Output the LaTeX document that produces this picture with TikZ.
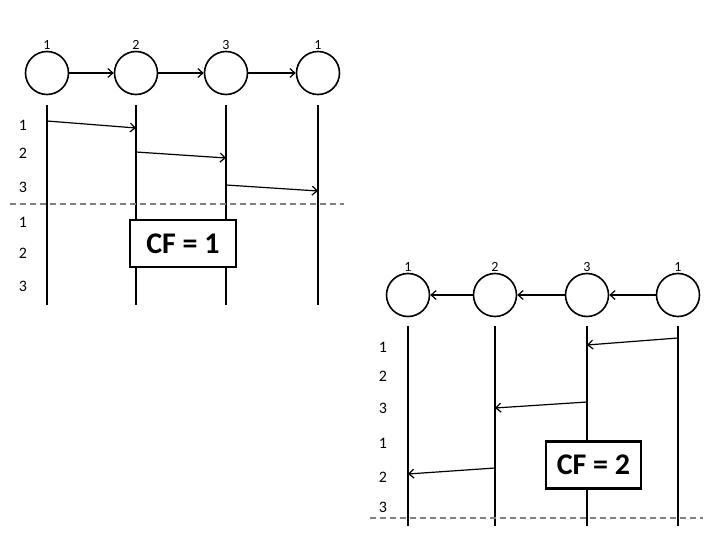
\documentclass[tikz,border=0pt]{standalone}
\usepackage{fontspec}
\setmainfont{Carlito}
\usetikzlibrary{arrows.meta}
\begin{document}
\begin{tikzpicture}[x=1pt,y=-1pt,
    >={Straight Barb[length=5pt,width=9pt,line width=1.2pt]},
    proc/.style={circle,draw,line width=1.6pt,minimum size=43pt,inner sep=0pt},
    tag/.style={font=\fontsize{14}{16}\selectfont,inner sep=1pt},
    link/.style={->,line width=1.3pt},
    life/.style={line width=1.6pt},
    msg/.style={->,line width=1.2pt},
    row/.style={font=\fontsize{16}{18}\selectfont,inner sep=0pt},
    cut/.style={dash pattern=on 6pt off 4pt,gray,line width=1.3pt},
    cfbox/.style={draw,fill=white,line width=2.2pt,minimum width=106pt,minimum height=47pt,
      font=\bfseries\fontsize{30}{34}\selectfont}]
        \useasboundingbox (0,0) rectangle (720,540);

        % upper ring
        \node[proc,label={[tag]above:1}] (a1) at (47,73) {};
        \node[proc,label={[tag]above:2}] (a2) at (136,73) {};
        \node[proc,label={[tag]above:3}] (a3) at (226,73) {};
        \node[proc,label={[tag]above:1}] (a4) at (318,73) {};

        \draw[link] (a1) -- (a2);
        \draw[link] (a2) -- (a3);
        \draw[link] (a3) -- (a4);

        \coordinate (a1t) at (47,105);
        \coordinate (a1b) at (47,305);
        \coordinate (a2t) at (136,105);
        \coordinate (a2b) at (136,305);
        \coordinate (a3t) at (226,105);
        \coordinate (a3b) at (226,305);
        \coordinate (a4t) at (318,105);
        \coordinate (a4b) at (318,305);

        \draw[life] (a1t) -- (a1b);
        \draw[life] (a2t) -- (a2b);
        \draw[life] (a3t) -- (a3b);
        \draw[life] (a4t) -- (a4b);

        \coordinate (p1) at (47,121);
        \coordinate (q1) at (136,128);
        \coordinate (p2) at (136,152);
        \coordinate (q2) at (226,158);
        \coordinate (p3) at (226,185);
        \coordinate (q3) at (318,191);

        \draw[msg] (p1) -- (q1);
        \draw[msg] (p2) -- (q2);
        \draw[msg] (p3) -- (q3);

        \node[row] (ra1) at (23,125) {1};
        \node[row] (ra2) at (23,153) {2};
        \node[row] (ra3) at (23,187) {3};
        \node[row] (ra4) at (23,222) {1};
        \node[row] (ra5) at (23,253) {2};
        \node[row] (ra6) at (23,286) {3};

        \coordinate (ca) at (10,204);
        \coordinate (cb) at (344,204);
        \draw[cut] (ca) -- (cb);

        \node[cfbox] (cf1) at (183,243.5) {CF = 1};

        % lower ring
        \node[proc,label={[tag]above:1}] (b1) at (408,295) {};
        \node[proc,label={[tag]above:2}] (b2) at (495,295) {};
        \node[proc,label={[tag]above:3}] (b3) at (587,295) {};
        \node[proc,label={[tag]above:1}] (b4) at (678,295) {};

        \draw[link] (b2) -- (b1);
        \draw[link] (b3) -- (b2);
        \draw[link] (b4) -- (b3);

        \coordinate (b1t) at (408,326);
        \coordinate (b1b) at (408,526);
        \coordinate (b2t) at (495,326);
        \coordinate (b2b) at (495,526);
        \coordinate (b3t) at (587,326);
        \coordinate (b3b) at (587,526);
        \coordinate (b4t) at (678,326);
        \coordinate (b4b) at (678,526);

        \draw[life] (b1t) -- (b1b);
        \draw[life] (b2t) -- (b2b);
        \draw[life] (b3t) -- (b3b);
        \draw[life] (b4t) -- (b4b);

        \coordinate (s1) at (678,338);
        \coordinate (t1) at (587,345);
        \coordinate (s2) at (587,402);
        \coordinate (t2) at (495,408);
        \coordinate (s3) at (495,468);
        \coordinate (t3) at (408,474);

        \draw[msg] (s1) -- (t1);
        \draw[msg] (s2) -- (t2);
        \draw[msg] (s3) -- (t3);

        \node[row] (rb1) at (383,347) {1};
        \node[row] (rb2) at (383,376) {2};
        \node[row] (rb3) at (383,408) {3};
        \node[row] (rb4) at (383,443) {1};
        \node[row] (rb5) at (383,477) {2};
        \node[row] (rb6) at (383,507) {3};

        \coordinate (cc) at (370,518);
        \coordinate (cd) at (703,518);
        \draw[cut] (cc) -- (cd);

        \node[cfbox,minimum width=95pt] (cf2) at (593.5,465) {CF = 2};
      \end{tikzpicture}
\end{document}
